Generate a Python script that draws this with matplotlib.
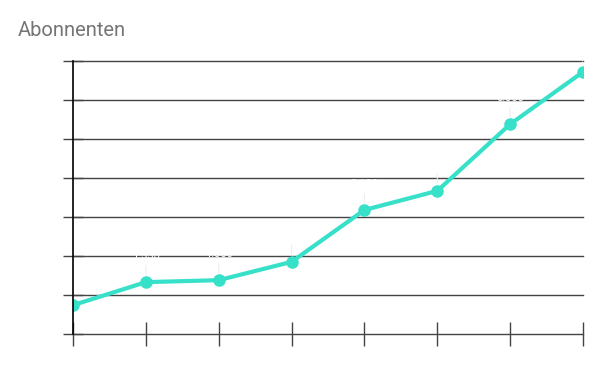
"""
Plot: abonnenten.py
Line chart of subscriber counts per period.
"""

import matplotlib
matplotlib.use("Agg")
import matplotlib.pyplot as plt

# --- Data ---
periods = ["P1", "P2", "P3", "P4", "P5", "P6", "P7", "P8"]
subscribers = [740, 1330, 1380, 1850, 3180, 3670, 5380, 6720]
y_ticks = [0, 1000, 2000, 3000, 4000, 5000, 6000, 7000]

LINE_COLOR = "#36e0c9"
GRID_COLOR = "#444444"

plt.rcParams["font.family"] = ["Roboto", "DejaVu Sans"]

fig = plt.figure(figsize=(6.07, 3.71), dpi=100)
ax = fig.add_axes([73 / 607, 37 / 371, 510 / 607, 273 / 371])

x = list(range(len(periods)))
ax.plot(x, subscribers, color=LINE_COLOR, linewidth=3, marker="o",
        markersize=8, zorder=3, clip_on=True)

# white value labels with thin leader lines (as in the original)
for xi, yi in zip(x, subscribers):
    ann = ax.annotate(f"{yi:,}".replace(",", "."), xy=(xi, yi), xytext=(0, 15),
                      textcoords="offset points", ha="center", va="bottom",
                      fontsize=8, color="white", annotation_clip=True,
                      arrowprops=dict(arrowstyle="-", color="#eeeeee", lw=0.8,
                                      shrinkA=1, shrinkB=5))
    ann.arrow_patch.set_clip_box(ax.bbox)
    ann.arrow_patch.set_clip_on(True)

ax.set_xlim(0, len(periods) - 1)
ax.set_ylim(0, 7000)
ax.set_xticks(x)
ax.set_xticklabels(periods, color="white", fontsize=9)
ax.set_yticks(y_ticks)
ax.set_yticklabels([f"{v:,}".replace(",", ".") for v in y_ticks], color="white", fontsize=9)

ax.grid(True, axis="y", color=GRID_COLOR, linewidth=1)
for gl in ax.get_ygridlines():
    gl.set_clip_on(False)
ax.tick_params(axis="y", direction="inout", length=15, width=1, color=GRID_COLOR)
ax.tick_params(axis="x", direction="inout", length=17, width=1, color=GRID_COLOR)
ax.set_axisbelow(True)

for side in ["top", "right", "bottom"]:
    ax.spines[side].set_visible(False)
ax.spines["left"].set_color("black")
ax.spines["left"].set_linewidth(1.2)
ax.spines["left"].set_zorder(4)

fig.text(18 / 607, 1 - 30 / 371, "Abonnenten", fontsize=14.5, color="#757575",
         ha="left", va="center")

plt.savefig("out.png", dpi=100)
